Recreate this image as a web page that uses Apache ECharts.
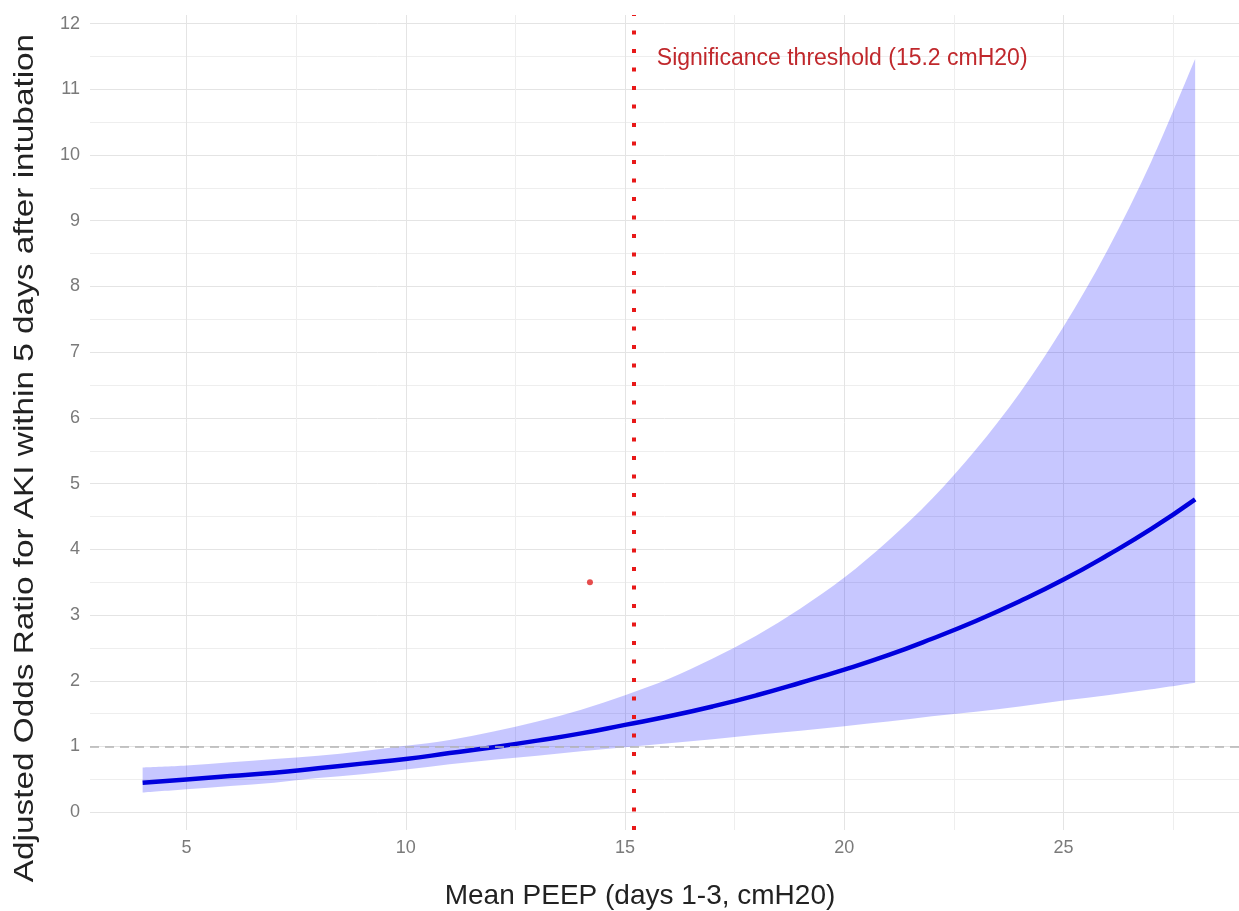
<!DOCTYPE html>
<html>
<head>
<meta charset="utf-8">
<script src="https://cdn.jsdelivr.net/npm/echarts@6/dist/echarts.min.js"></script>
<style>
  html, body { margin: 0; padding: 0; background: #fff; }
  #chart { width: 1239px; height: 911px; }
</style>
</head>
<body>
<div id="chart"></div>
<script>
// values
var peep = [4, 5, 6, 7, 8, 9, 10, 11, 12, 13, 14, 15, 16, 17, 18, 19, 20, 21, 22, 23, 24, 25, 26, 27, 28];
var oddsRatio = [0.45, 0.50, 0.55, 0.60, 0.67, 0.74, 0.81, 0.90, 0.99, 1.09, 1.20, 1.33, 1.46, 1.61, 1.78, 1.97, 2.17, 2.39, 2.64, 2.91, 3.21, 3.54, 3.91, 4.31, 4.76];
var ciLower = [0.30, 0.35, 0.40, 0.45, 0.52, 0.58, 0.65, 0.73, 0.80, 0.86, 0.93, 0.99, 1.05, 1.11, 1.18, 1.24, 1.31, 1.38, 1.46, 1.53, 1.61, 1.70, 1.78, 1.87, 1.97];
var ciUpper = [0.68, 0.71, 0.76, 0.81, 0.86, 0.93, 1.01, 1.10, 1.23, 1.38, 1.56, 1.78, 2.03, 2.34, 2.69, 3.10, 3.57, 4.13, 4.77, 5.52, 6.38, 7.39, 8.55, 9.90, 11.46];

var xTicks = [5, 10, 15, 20, 25];
var xMinorTicks = [7.5, 12.5, 17.5, 22.5, 27.5];
var yTicks = [0, 1, 2, 3, 4, 5, 6, 7, 8, 9, 10, 11, 12];
var yMinorTicks = [0.5, 1.5, 2.5, 3.5, 4.5, 5.5, 6.5, 7.5, 8.5, 9.5, 10.5, 11.5];

var threshold = 15.2;
var thresholdLabel = 'Significance threshold (15.2 cmH20)';
var thresholdLabelY = 11.47;
var refOdds = 1;
var strayPoint = [14.2, 3.5];

var xTitle = 'Mean PEEP (days 1-3, cmH20)';
var yTitle = 'Adjusted Odds Ratio for AKI within 5 days after intubation';

var FONT = '"Liberation Sans", Arial, Helvetica, sans-serif';
var X_MIN = 2.8, X_MAX = 29;
var Y_MIN = -0.27, Y_MAX = 12.13;

var linePts = peep.map(function (x, i) { return [x, oddsRatio[i]]; });

var chart = echarts.init(document.getElementById('chart'), null, { renderer: 'canvas' });

function xAxisDef(values, color, showLabel) {
  return {
    type: 'value', min: X_MIN, max: X_MAX, position: 'bottom',
    axisLine: { show: false },
    axisTick: { show: false, customValues: values },
    axisLabel: { show: showLabel, customValues: values, color: '#7a7a7a', fontSize: 18, fontFamily: FONT, margin: 9 },
    splitLine: { show: true, lineStyle: { color: color, width: 1 } }
  };
}
function yAxisDef(values, color, showLabel) {
  return {
    type: 'value', min: Y_MIN, max: Y_MAX, position: 'left',
    axisLine: { show: false },
    axisTick: { show: false, customValues: values },
    axisLabel: { show: showLabel, customValues: values, color: '#7a7a7a', fontSize: 18, fontFamily: FONT, margin: 10 },
    splitLine: { show: true, lineStyle: { color: color, width: 1 } }
  };
}

// catmull-rom through pixel points -> svg cubic segments
function smoothSegs(p) {
  var d = '';
  for (var i = 0; i < p.length - 1; i++) {
    var p0 = p[i > 0 ? i - 1 : i], p1 = p[i], p2 = p[i + 1], p3 = p[i + 2 < p.length ? i + 2 : i + 1];
    var c1 = [p1[0] + (p2[0] - p0[0]) / 6, p1[1] + (p2[1] - p0[1]) / 6];
    var c2 = [p2[0] - (p3[0] - p1[0]) / 6, p2[1] - (p3[1] - p1[1]) / 6];
    d += ' C' + c1[0] + ',' + c1[1] + ' ' + c2[0] + ',' + c2[1] + ' ' + p2[0] + ',' + p2[1];
  }
  return d;
}

// confidence ribbon: upper edge forward, lower edge back
function renderBand(params, api) {
  var up = [], lo = [];
  for (var i = 0; i < peep.length; i++) up.push(api.coord([peep[i], ciUpper[i]]));
  for (var j = peep.length - 1; j >= 0; j--) lo.push(api.coord([peep[j], ciLower[j]]));
  var d = 'M' + up[0][0] + ',' + up[0][1] + smoothSegs(up) +
          ' L' + lo[0][0] + ',' + lo[0][1] + smoothSegs(lo) + ' Z';
  return {
    type: 'path',
    shape: { pathData: d },
    style: { fill: 'rgba(0, 0, 255, 0.22)' }
  };
}

chart.setOption({
  animation: false,
  backgroundColor: '#ffffff',
  grid: { left: 90, right: 0, top: 15, bottom: 81 },
  xAxis: [xAxisDef(xTicks, '#e4e4e4', true), xAxisDef(xMinorTicks, '#eeeeee', false)],
  yAxis: [yAxisDef(yTicks, '#e4e4e4', true), yAxisDef(yMinorTicks, '#eeeeee', false)],
  graphic: [
    {
      type: 'text', x: 640, y: 896,
      style: { text: xTitle, fill: '#222', font: '28px ' + FONT, textAlign: 'center', textVerticalAlign: 'middle' }
    },
    {
      type: 'text', x: 25, y: 458, rotation: Math.PI / 2, scaleX: 1.19,
      style: { text: yTitle, fill: '#222', font: '28px ' + FONT, textAlign: 'center', textVerticalAlign: 'middle' }
    }
  ],
  series: [
    {
      name: 'ciBand', type: 'custom', data: [0], renderItem: renderBand,
      silent: true, z: 2,
      markLine: {
        silent: true, symbol: 'none', label: { show: false },
        lineStyle: { color: '#b4b4b4', type: [9, 6], width: 1.5 },
        data: [{ yAxis: refOdds }]
      }
    },
    {
      name: 'oddsRatio', type: 'line', data: linePts, smooth: true, symbol: 'none', z: 4,
      lineStyle: { color: '#0000dd', width: 4.5 }
    },
    {
      name: 'threshold', type: 'scatter', data: [strayPoint], symbolSize: 6, z: 5,
      itemStyle: { color: '#e02020' },
      markLine: {
        silent: true, symbol: 'none', label: { show: false },
        lineStyle: { color: '#e81818', type: [4, 14.5], width: 4, cap: 'butt' },
        data: [{ xAxis: threshold }]
      },
      markPoint: {
        silent: true, symbol: 'circle', symbolSize: 0,
        label: {
          show: true, position: 'right', distance: 23, formatter: thresholdLabel,
          color: '#c0282c', fontSize: 23, fontFamily: FONT
        },
        data: [{ coord: [threshold, thresholdLabelY] }]
      }
    }
  ]
});
</script>
</body>
</html>
